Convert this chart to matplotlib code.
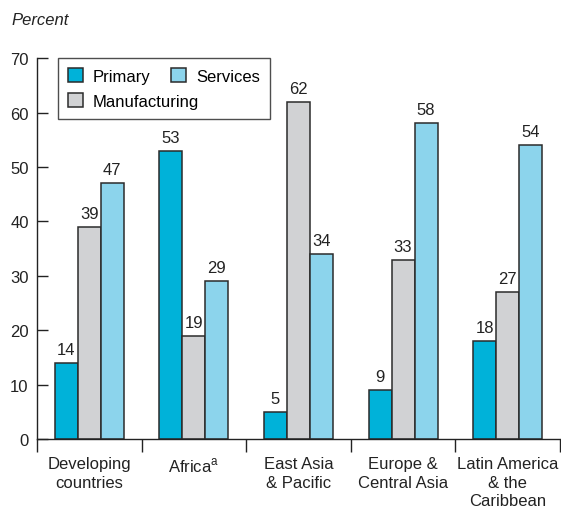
import matplotlib
matplotlib.use("Agg")
import matplotlib.pyplot as plt
import numpy as np

plt.rcParams['font.family'] = ['Liberation Sans', 'DejaVu Sans']
plt.rcParams['mathtext.fontset'] = 'custom'
plt.rcParams['mathtext.rm'] = 'Liberation Sans'

regions = ["Developing\ncountries", "Africa$^{\\mathrm{a}}$", "East Asia\n& Pacific",
           "Europe &\nCentral Asia", "Latin America\n& the\nCaribbean"]
primary = [14, 53, 5, 9, 18]
manufacturing = [39, 19, 62, 33, 27]
services = [47, 29, 34, 58, 54]

series = [("Primary", primary, "#00B2D9"),
          ("Manufacturing", manufacturing, "#D1D2D4"),
          ("Services", services, "#8CD4EC")]

FS = 12
INK = "#222222"

fig = plt.figure(figsize=(5.61, 5.10), dpi=100)
ax = fig.add_axes([0.066, 0.137, 0.932, 0.747])

x = np.arange(len(regions))
w = 0.22
handles = {}
for i, (name, vals, col) in enumerate(series):
    pos = x + (i - 1) * w
    bars = ax.bar(pos, vals, width=w, color=col, edgecolor="#2b2b2b", linewidth=1.1, label=name)
    handles[name] = bars
    for p, v in zip(pos, vals):
        ax.text(p, v + 1.1, str(v), ha="center", va="bottom", fontsize=FS, color=INK)

ax.set_xlim(-0.5, len(regions) - 0.5)
ax.set_ylim(0, 70)
ax.set_yticks(range(0, 71, 10))
ax.tick_params(axis="y", direction="in", length=8, width=1, labelsize=FS, pad=6, colors=INK)

# group separators as ticks on the x-axis
ax.set_xticks(np.arange(-0.5, len(regions), 1.0))
ax.set_xticklabels([])
ax.tick_params(axis="x", direction="out", length=9, width=1, colors=INK)
for xi, lab in zip(x, regions):
    ax.text(xi, -3.1, lab, ha="center", va="top", fontsize=FS, color=INK,
            linespacing=1.3)

for s in ["top", "right"]:
    ax.spines[s].set_visible(False)
for s in ["left", "bottom"]:
    ax.spines[s].set_color(INK)
    ax.spines[s].set_linewidth(1.0)

fig.text(0.02, 0.96, "Percent", style="italic", fontsize=FS, color=INK, va="center")

leg = ax.legend([handles["Primary"], handles["Manufacturing"], handles["Services"]],
                ["Primary", "Manufacturing", "Services"],
                ncol=2, loc="upper left", bbox_to_anchor=(0.04, 1.0),
                frameon=True, fancybox=False, edgecolor=INK, fontsize=FS,
                handlelength=0.9, handleheight=0.9, handletextpad=0.6,
                columnspacing=-1.7, labelspacing=0.55, borderpad=0.6,
                borderaxespad=0.0)
leg.get_frame().set_linewidth(1.0)

fig.savefig("out.png", dpi=100)
